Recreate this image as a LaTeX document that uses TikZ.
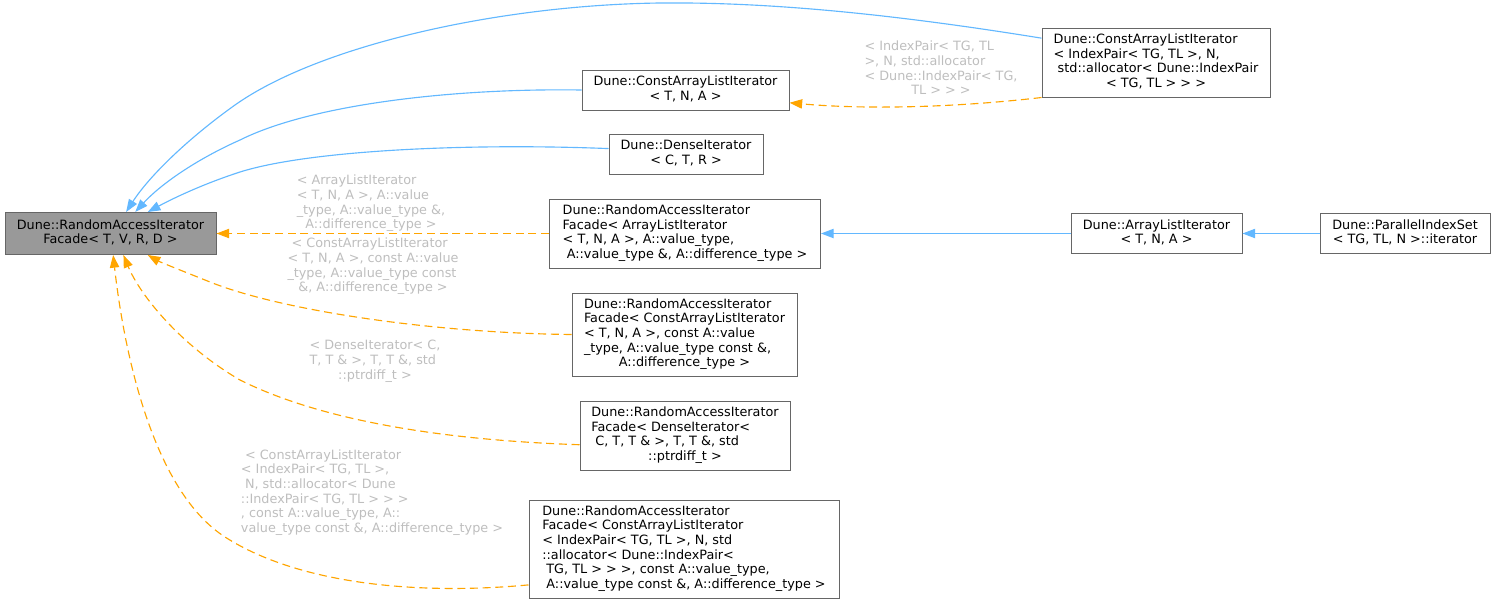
\documentclass[tikz,border=0pt]{standalone}
\usepackage{fontspec}
\setmainfont{DejaVu Sans}
\usepackage{tikz}
\usetikzlibrary{
  arrows.meta
}
\definecolor{EdgeBlue}{RGB}{99,184,255}
\definecolor{EdgeOrange}{RGB}{255,165,0}
\definecolor{BoxGray}{RGB}{102,102,102}
\definecolor{BaseFill}{RGB}{153,153,153}
\definecolor{LabelGray}{RGB}{190,190,190}
\newcommand\lastln[1]{\multicolumn{1}{@{}c@{}}{#1}}
\newcommand\lns[1]{\begin{tabular}{@{}l@{}}#1\end{tabular}}
\tikzset{
  cls/.style={
    draw=BoxGray,
    fill=white,
    line width=0.75pt,
    inner sep=0pt,
    font=\fontsize{9.6}{11}\selectfont
  },
  basecls/.style={cls,fill=BaseFill},
  sz/.style 2 args={minimum width=#1*0.75pt,minimum height=#2*0.75pt},
  elabel/.style={inner sep=0pt,text=LabelGray,font=\fontsize{9.6}{11}\selectfont},
  inherit/.style={-{Triangle[length=9.5pt,width=7pt]},line width=0.85pt,draw=EdgeBlue},
  templ/.style={-{Triangle[length=9.5pt,width=7pt]},line width=0.85pt,draw=EdgeOrange,dash pattern=on 6pt off 3.5pt}
}

\begin{document}
\begin{tikzpicture}[x=0.75pt,y=-0.75pt]
  \useasboundingbox (0,0) rectangle (1495,604);

  \node[basecls, sz={211}{42}] (base) at (110.5,233.5) {\lns{Dune::RandomAccessIterator\\\lastln{Facade< T, V, R, D >}}};
  \node[cls, sz={207}{40}] (cal) at (685.5,90) {\lns{Dune::ConstArrayListIterator\\\lastln{< T, N, A >}}};
  \node[cls, sz={228}{69}] (calip) at (1156,62.5) {\lns{Dune::ConstArrayListIterator\\< IndexPair< TG, TL >, N,\\\ std::allocator< Dune::IndexPair\\\lastln{< TG, TL > > >}}};
  \node[cls, sz={154}{40}] (dense) at (686,154) {\lns{Dune::DenseIterator\\\lastln{< C, T, R >}}};
  \node[cls, sz={271}{69}] (rafal) at (685,233.5) {\lns{Dune::RandomAccessIterator\\Facade< ArrayListIterator\\< T, N, A >, A::value\_type,\\\lastln{\ A::value\_type \&, A::difference\_type >}}};
  \node[cls, sz={171}{40}] (al) at (1156.5,233.5) {\lns{Dune::ArrayListIterator\\\lastln{< T, N, A >}}};
  \node[cls, sz={170}{40}] (pis) at (1405,233.5) {\lns{Dune::ParallelIndexSet\\\lastln{< TG, TL, N >::iterator}}};
  \node[cls, sz={225}{83}] (rafcal) at (684.5,334.5) {\lns{Dune::RandomAccessIterator\\Facade< ConstArrayListIterator\\< T, N, A >, const A::value\\\_type, A::value\_type const \&,\\\lastln{A::difference\_type >}}};
  \node[cls, sz={210}{69}] (rafdense) at (685,435.5) {\lns{Dune::RandomAccessIterator\\Facade< DenseIterator<\\\ C, T, T \& >, T, T \&, std\\\lastln{::ptrdiff\_t >}}};
  \node[cls, sz={310}{98}] (rafcalip) at (684,549) {\lns{Dune::RandomAccessIterator\\Facade< ConstArrayListIterator\\< IndexPair< TG, TL >, N, std\\::allocator< Dune::IndexPair<\\\ TG, TL > > >, const A::value\_type,\\\lastln{\ A::value\_type const \&, A::difference\_type >}}};

  \draw[inherit] (calip.168) .. controls (880,12) and (760,2) .. (660,3) .. controls (500,5) and (320,45) .. (235,105) .. controls (190,137) and (150,175) .. (base.54);
  \draw[inherit] (cal.west) .. controls (450,88) and (310,105) .. (240,140) .. controls (195,160) and (160,185) .. (base.41);
  \draw[inherit] (dense.176) .. controls (470,143) and (310,150) .. (240,172) .. controls (200,185) and (170,200) .. (base.30);
  \draw[inherit] (al.west) -- (rafal.east);
  \draw[inherit] (pis.west) -- (al.east);

  \draw[templ] (rafal.west) -- (base.east);
  \draw[templ] (rafcal.west) .. controls (430,333) and (280,310) .. (210,282) .. controls (180,270) and (160,262) .. (base.-30);
  \draw[templ] (rafdense.185) .. controls (440,440) and (320,420) .. (240,380) .. controls (180,345) and (140,295) .. (base.-59);
  \draw[templ] (rafcalip.193) .. controls (420,595) and (300,585) .. (225,537) .. controls (155,492) and (125,360) .. (base.-83);
  \draw[templ] (calip.south west) .. controls (960,107) and (870,110) .. (cal.-7);

  \node[elabel] (lal) at (371,204) {\lns{< ArrayListIterator\\< T, N, A >, A::value\\\_type, A::value\_type \&,\\\lastln{A::difference\_type >}}};
  \node[elabel] (lcal) at (373,267) {\lns{\ < ConstArrayListIterator\\< T, N, A >, const A::value\\\_type, A::value\_type const\\\lastln{\&, A::difference\_type >}}};
  \node[elabel] (ldense) at (375,361.5) {\lns{< DenseIterator< C,\\T, T \& >, T, T \&, std\\\lastln{::ptrdiff\_t >}}};
  \node[elabel] (lcalip) at (372,493) {\lns{\ < ConstArrayListIterator\\< IndexPair< TG, TL >,\\\ N, std::allocator< Dune\\::IndexPair< TG, TL > > >\\, const A::value\_type, A::\\\lastln{value\_type const \&, A::difference\_type >}}};
  \node[elabel] (lip) at (941,70) {\lns{< IndexPair< TG, TL\\>, N, std::allocator\\< Dune::IndexPair< TG,\\\lastln{TL > > >}}};
\end{tikzpicture}
\end{document}
